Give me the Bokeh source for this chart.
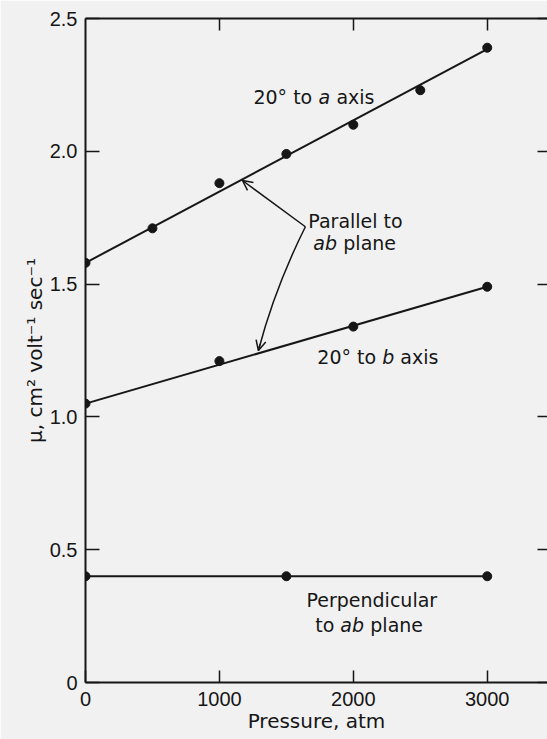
from bokeh.plotting import figure
from bokeh.models import Range1d, LinearAxis, FixedTicker, Arrow, OpenHead, ColumnDataSource
from bokeh.embed import file_html
from bokeh.resources import INLINE
from bokeh.core.properties import value

# ---- data ----
pressure_a = [0, 500, 1000, 1500, 2000, 2500, 3000]
mu_a = [1.58, 1.71, 1.88, 1.99, 2.10, 2.23, 2.39]
fit_a_x = [0, 3000]
fit_a_y = [1.58, 2.385]

pressure_b = [0, 1000, 2000, 3000]
mu_b = [1.05, 1.21, 1.34, 1.49]
fit_b_x = [0, 3000]
fit_b_y = [1.05, 1.49]

pressure_perp = [0, 1500, 3000]
mu_perp = [0.40, 0.40, 0.40]
fit_p_x = [0, 3000]
fit_p_y = [0.40, 0.40]

x_ticks = [0, 1000, 2000, 3000]
y_ticks = [0, 0.5, 1.0, 1.5, 2.0, 2.5]
y_tick_labels = ["0", "0.5", "1.0", "1.5", "2.0", "2.5"]

BG = "#f1f1f1"
INK = "#161616"
FONT = "DejaVu Sans"

p = figure(width=547, height=739, output_backend="svg", toolbar_location=None,
           x_range=Range1d(0, 3450), y_range=Range1d(0, 2.5),
           min_border_left=85, min_border_right=0, min_border_top=18, min_border_bottom=57,
           background_fill_color=BG, border_fill_color=BG, outline_line_color=None)
p.grid.visible = False

def style_axis(ax, tick_in, show_labels=True):
    ax.axis_line_color = INK
    ax.axis_line_width = 2
    ax.major_tick_line_color = INK
    ax.major_tick_line_width = 1.5
    ax.major_tick_in = tick_in
    ax.major_tick_out = 0
    ax.minor_tick_line_color = None
    ax.major_label_text_font = "Liberation Sans"
    if show_labels:
        ax.major_label_text_color = INK
        ax.major_label_text_font_size = "20px"
    else:
        ax.major_label_text_color = None
        ax.major_label_text_font_size = "1px"
    ax.axis_label_text_font = FONT
    ax.axis_label_text_font_size = "20px"
    ax.axis_label_text_font_style = "normal"
    ax.axis_label_text_color = INK

xa = p.xaxis[0]
xa.ticker = FixedTicker(ticks=x_ticks)
style_axis(xa, 12)
xa.major_label_standoff = 9
xa.axis_label = "Pressure, atm"
xa.axis_label_standoff = 0

ya = p.yaxis[0]
ya.ticker = FixedTicker(ticks=y_ticks)
style_axis(ya, 14)
ya.major_label_overrides = {t: s for t, s in zip(y_ticks, y_tick_labels)}
ya.major_label_standoff = 8
ya.axis_label = "\u03bc, cm\u00b2 volt\u207b\u00b9 sec\u207b\u00b9"
ya.axis_label_standoff = 0

top = LinearAxis(ticker=FixedTicker(ticks=x_ticks[1:]))
style_axis(top, 12, show_labels=False)
top.major_label_standoff = 0
p.add_layout(top, "above")

right = LinearAxis(ticker=FixedTicker(ticks=y_ticks))
style_axis(right, 10, show_labels=False)
right.axis_line_color = None
right.major_label_standoff = 0
p.add_layout(right, "right")

# ---- fitted lines and points ----
for fx, fy in [(fit_a_x, fit_a_y), (fit_b_x, fit_b_y), (fit_p_x, fit_p_y)]:
    p.line(fx, fy, line_color=INK, line_width=2)
for px_, py_ in [(pressure_a, mu_a), (pressure_b, mu_b), (pressure_perp, mu_perp)]:
    p.scatter(px_, py_, size=9, marker="circle", fill_color=INK, line_color=INK)

# ---- annotations (text pieces: x, y, text, pixel offset, style, align) ----
pieces = [
    (1254, 2.203, "20\u00b0 to", 0, "normal", "left"),
    (1254, 2.203, "a", 65, "italic", "left"),
    (1254, 2.203, "axis", 83, "normal", "left"),
    (1664, 1.739, "Parallel to", 0, "normal", "left"),
    (1701, 1.653, "ab", 0, "italic", "left"),
    (1701, 1.653, "plane", 30, "normal", "left"),
    (1731, 1.224, "20\u00b0 to", 0, "normal", "left"),
    (1731, 1.224, "b", 65, "italic", "left"),
    (1731, 1.224, "axis", 83, "normal", "left"),
    (2138, 0.309, "Perpendicular", 0, "normal", "center"),
    (1716, 0.215, "to", 0, "normal", "left"),
    (1716, 0.215, "ab", 25, "italic", "left"),
    (1716, 0.215, "plane", 55, "normal", "left"),
]
for style in ["normal", "italic"]:
    for align in ["left", "center"]:
        sel = [q for q in pieces if q[4] == style and q[5] == align]
        if not sel:
            continue
        src = ColumnDataSource(dict(x=[q[0] for q in sel], y=[q[1] for q in sel],
                                    t=[q[2] for q in sel], dx=[q[3] for q in sel]))
        p.text(x="x", y="y", text="t", x_offset="dx", source=src,
               text_font=value(FONT), text_font_size="19px", text_font_style=style,
               text_align=align, text_baseline="alphabetic", text_color=INK)

# ---- arrows from "Parallel to ab plane" ----
vx, vy = 1642, 1.716
p.add_layout(Arrow(x_start=vx, y_start=vy, x_end=1172, y_end=1.890,
                   line_color=INK, line_width=1.5,
                   end=OpenHead(size=10, line_color=INK, line_width=1.5)))
p.quadratic(x0=[vx], y0=[vy], x1=[1291], y1=[1.250], cx=[1414], cy=[1.485],
            line_color=INK, line_width=1.5)
p.add_layout(Arrow(x_start=1303, y_start=1.273, x_end=1291, y_end=1.250,
                   line_color=INK, line_width=1.5,
                   end=OpenHead(size=10, line_color=INK, line_width=1.5)))

open("out.html", "w").write(file_html(p, INLINE))
